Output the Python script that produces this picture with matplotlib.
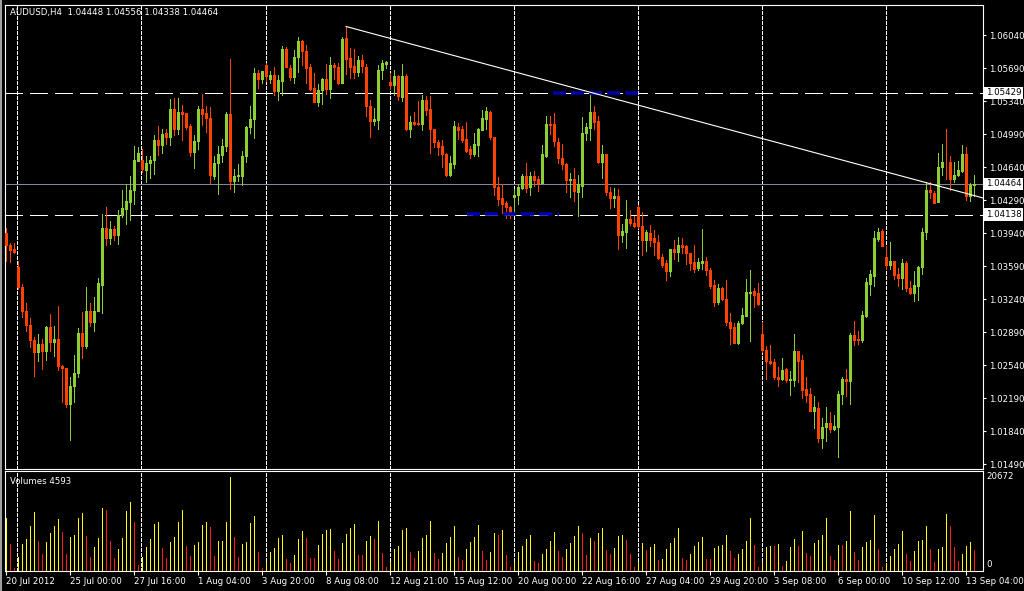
import matplotlib
matplotlib.use("Agg")
import matplotlib.pyplot as plt
from matplotlib.lines import Line2D
import numpy as np

# AUDUSD H4 bars, 20 Jul 2012 .. 13 Sep 2012
symbol = "AUDUSD,H4"

opens = [1.0394, 1.0382, 1.0377, 1.0358, 1.0337, 1.0311, 1.0297, 1.0281, 1.0268, 1.0277,
         1.0269, 1.0295, 1.0279, 1.0282, 1.0253, 1.0251, 1.0213, 1.0232, 1.0246, 1.0288,
         1.0274, 1.0312, 1.0300, 1.0312, 1.0339, 1.0400, 1.0389, 1.0398, 1.0392, 1.0413,
         1.0420, 1.0427, 1.0440, 1.0471, 1.0472, 1.0461, 1.0468, 1.0472, 1.0493, 1.0487,
         1.0500, 1.0496, 1.0526, 1.0505, 1.0522, 1.0521, 1.0508, 1.0480, 1.0492, 1.0526,
         1.0521, 1.0516, 1.0455, 1.0468, 1.0477, 1.0486, 1.0520, 1.0449, 1.0455, 1.0455,
         1.0476, 1.0507, 1.0515, 1.0564, 1.0558, 1.0572, 1.0557, 1.0562, 1.0545, 1.0555,
         1.0589, 1.0569, 1.0560, 1.0581, 1.0598, 1.0587, 1.0570, 1.0548, 1.0533, 1.0546,
         1.0558, 1.0547, 1.0572, 1.0570, 1.0553, 1.0601, 1.0580, 1.0571, 1.0565, 1.0578,
         1.0570, 1.0529, 1.0513, 1.0514, 1.0567, 1.0573, 1.0554, 1.0551, 1.0561, 1.0538,
         1.0561, 1.0505, 1.0512, 1.0511, 1.0510, 1.0535, 1.0526, 1.0505, 1.0491, 1.0486,
         1.0478, 1.0456, 1.0467, 1.0507, 1.0504, 1.0494, 1.0483, 1.0478, 1.0488, 1.0503,
         1.0515, 1.0523, 1.0496, 1.0443, 1.0431, 1.0426, 1.0422, 1.0432, 1.0434, 1.0442,
         1.0455, 1.0443, 1.0455, 1.0451, 1.0447, 1.0476, 1.0510, 1.0510, 1.0491, 1.0474,
         1.0467, 1.0450, 1.0452, 1.0438, 1.0444, 1.0500, 1.0506, 1.0522, 1.0513, 1.0470,
         1.0478, 1.0438, 1.0431, 1.0433, 1.0392, 1.0395, 1.0409, 1.0405, 1.0422, 1.0402,
         1.0387, 1.0394, 1.0389, 1.0385, 1.0369, 1.0362, 1.0354, 1.0377, 1.0374, 1.0382,
         1.0380, 1.0373, 1.0363, 1.0357, 1.0362, 1.0365, 1.0355, 1.0339, 1.0321, 1.0336,
         1.0324, 1.0300, 1.0295, 1.0278, 1.0299, 1.0306, 1.0331, 1.0333, 1.0331, 1.0287,
         1.0270, 1.0259, 1.0257, 1.0241, 1.0239, 1.0250, 1.0238, 1.0238, 1.0269, 1.0260,
         1.0229, 1.0223, 1.0206, 1.0209, 1.0177, 1.0188, 1.0193, 1.0186, 1.0188, 1.0223,
         1.0239, 1.0237, 1.0286, 1.0282, 1.0281, 1.0306, 1.0340, 1.0349, 1.0388, 1.0396,
         1.0369, 1.0360, 1.0365, 1.0351, 1.0346, 1.0362, 1.0336, 1.0331, 1.0338, 1.0358,
         1.0395, 1.0440, 1.0437, 1.0427, 1.0464, 1.0470, 1.0469, 1.0451, 1.0456, 1.0460,
         1.0478, 1.0433, 1.04448]

highs = [1.0399, 1.0384, 1.0384, 1.0365, 1.0340, 1.0320, 1.0304, 1.0284, 1.0287, 1.0282,
         1.0296, 1.0308, 1.0296, 1.0317, 1.0254, 1.0251, 1.0242, 1.0265, 1.0294, 1.0310,
         1.0337, 1.0320, 1.0326, 1.0346, 1.0414, 1.0422, 1.0407, 1.0402, 1.0419, 1.0440,
         1.0446, 1.0455, 1.0486, 1.0485, 1.0483, 1.0476, 1.0476, 1.0498, 1.0508, 1.0505,
         1.0505, 1.0536, 1.0537, 1.0537, 1.0530, 1.0521, 1.0510, 1.0498, 1.0529, 1.0542,
         1.0529, 1.0528, 1.0476, 1.0486, 1.0494, 1.0523, 1.0579, 1.0462, 1.0467, 1.0481,
         1.0508, 1.0529, 1.0569, 1.0567, 1.0566, 1.0575, 1.0566, 1.0570, 1.0562, 1.0593,
         1.0591, 1.0572, 1.0588, 1.0602, 1.0599, 1.0594, 1.0573, 1.0564, 1.0552, 1.0559,
         1.0573, 1.0581, 1.0575, 1.0575, 1.0602, 1.0613, 1.0590, 1.0589, 1.0582, 1.0583,
         1.0573, 1.0535, 1.0527, 1.0572, 1.0578, 1.0577, 1.0564, 1.0567, 1.0562, 1.0573,
         1.0563, 1.0518, 1.0523, 1.0534, 1.0541, 1.0539, 1.0539, 1.0505, 1.0493, 1.0493,
         1.0479, 1.0476, 1.0513, 1.0511, 1.0508, 1.0512, 1.0486, 1.0500, 1.0506, 1.0525,
         1.0528, 1.0524, 1.0496, 1.0454, 1.0446, 1.0428, 1.0423, 1.0441, 1.0446, 1.0457,
         1.0468, 1.0459, 1.0460, 1.0455, 1.0487, 1.0518, 1.0518, 1.0521, 1.0495, 1.0489,
         1.0468, 1.0458, 1.0463, 1.0456, 1.0517, 1.0511, 1.0541, 1.0529, 1.0518, 1.0488,
         1.0478, 1.0443, 1.0442, 1.0441, 1.0404, 1.0429, 1.0419, 1.0412, 1.0424, 1.0416,
         1.0397, 1.0403, 1.0397, 1.0392, 1.0372, 1.0366, 1.0377, 1.0387, 1.0390, 1.0389,
         1.0381, 1.0373, 1.0382, 1.0368, 1.0398, 1.0369, 1.0357, 1.0344, 1.0340, 1.0337,
         1.0344, 1.0309, 1.0299, 1.0301, 1.0315, 1.0345, 1.0355, 1.0336, 1.0341, 1.0300,
         1.0274, 1.0275, 1.0261, 1.0252, 1.0262, 1.0251, 1.0248, 1.0287, 1.0269, 1.0265,
         1.0242, 1.0230, 1.0221, 1.0215, 1.0198, 1.0210, 1.0204, 1.0201, 1.0227, 1.0241,
         1.0250, 1.0288, 1.0301, 1.0290, 1.0311, 1.0346, 1.0355, 1.0396, 1.0400, 1.0398,
         1.0380, 1.0385, 1.0365, 1.0357, 1.0367, 1.0364, 1.0343, 1.0354, 1.0359, 1.0399,
         1.0448, 1.0448, 1.0439, 1.0479, 1.0489, 1.0505, 1.0476, 1.0469, 1.0471, 1.0487,
         1.0485, 1.0447, 1.04556]

lows = [1.0364, 1.0363, 1.0373, 1.0335, 1.0305, 1.0290, 1.0273, 1.0243, 1.0258, 1.0250,
        1.0260, 1.0269, 1.0264, 1.0249, 1.0215, 1.0210, 1.0175, 1.0215, 1.0241, 1.0262,
        1.0272, 1.0296, 1.0290, 1.0312, 1.0309, 1.0382, 1.0383, 1.0387, 1.0383, 1.0411,
        1.0404, 1.0408, 1.0425, 1.0471, 1.0459, 1.0448, 1.0453, 1.0457, 1.0477, 1.0479,
        1.0489, 1.0487, 1.0498, 1.0499, 1.0493, 1.0504, 1.0476, 1.0463, 1.0483, 1.0509,
        1.0501, 1.0447, 1.0452, 1.0436, 1.0470, 1.0481, 1.0441, 1.0438, 1.0449, 1.0445,
        1.0469, 1.0500, 1.0495, 1.0548, 1.0553, 1.0555, 1.0553, 1.0541, 1.0535, 1.0541,
        1.0570, 1.0556, 1.0553, 1.0565, 1.0572, 1.0553, 1.0546, 1.0533, 1.0529, 1.0531,
        1.0542, 1.0537, 1.0558, 1.0552, 1.0553, 1.0563, 1.0559, 1.0559, 1.0561, 1.0565,
        1.0518, 1.0496, 1.0509, 1.0504, 1.0558, 1.0569, 1.0547, 1.0541, 1.0535, 1.0534,
        1.0503, 1.0496, 1.0509, 1.0509, 1.0503, 1.0519, 1.0479, 1.0485, 1.0477, 1.0464,
        1.0455, 1.0455, 1.0463, 1.0494, 1.0491, 1.0480, 1.0474, 1.0476, 1.0476, 1.0503,
        1.0504, 1.0494, 1.0434, 1.0424, 1.0415, 1.0410, 1.0410, 1.0413, 1.0425, 1.0441,
        1.0438, 1.0434, 1.0444, 1.0439, 1.0447, 1.0475, 1.0499, 1.0486, 1.0468, 1.0462,
        1.0438, 1.0432, 1.0428, 1.0412, 1.0432, 1.0493, 1.0493, 1.0504, 1.0468, 1.0453,
        1.0434, 1.0421, 1.0422, 1.0377, 1.0385, 1.0378, 1.0403, 1.0401, 1.0400, 1.0371,
        1.0375, 1.0380, 1.0371, 1.0367, 1.0358, 1.0344, 1.0349, 1.0367, 1.0364, 1.0373,
        1.0361, 1.0355, 1.0353, 1.0355, 1.0356, 1.0350, 1.0336, 1.0317, 1.0319, 1.0323,
        1.0297, 1.0276, 1.0278, 1.0277, 1.0298, 1.0306, 1.0280, 1.0316, 1.0318, 1.0268,
        1.0239, 1.0255, 1.0239, 1.0232, 1.0238, 1.0236, 1.0222, 1.0232, 1.0236, 1.0219,
        1.0215, 1.0205, 1.0187, 1.0173, 1.0166, 1.0174, 1.0183, 1.0185, 1.0157, 1.0213,
        1.0221, 1.0213, 1.0275, 1.0276, 1.0279, 1.0305, 1.0328, 1.0338, 1.0386, 1.0380,
        1.0356, 1.0356, 1.0345, 1.0338, 1.0335, 1.0333, 1.0330, 1.0322, 1.0323, 1.0351,
        1.0388, 1.0431, 1.0426, 1.0427, 1.0456, 1.0452, 1.0440, 1.0448, 1.0455, 1.0459,
        1.0429, 1.0428, 1.04338]

closes = [1.0382, 1.0376, 1.0374, 1.0337, 1.0311, 1.0297, 1.0281, 1.0268, 1.0277, 1.0269,
          1.0295, 1.0279, 1.0282, 1.0253, 1.0251, 1.0213, 1.0232, 1.0246, 1.0288, 1.0274,
          1.0312, 1.0300, 1.0312, 1.0341, 1.0400, 1.0389, 1.0398, 1.0392, 1.0413, 1.0421,
          1.0428, 1.0440, 1.0472, 1.0479, 1.0462, 1.0468, 1.0472, 1.0493, 1.0487, 1.0499,
          1.0496, 1.0526, 1.0505, 1.0522, 1.0520, 1.0507, 1.0480, 1.0492, 1.0526, 1.0520,
          1.0516, 1.0456, 1.0468, 1.0478, 1.0486, 1.0520, 1.0449, 1.0455, 1.0456, 1.0476,
          1.0507, 1.0515, 1.0564, 1.0558, 1.0566, 1.0561, 1.0562, 1.0545, 1.0556, 1.0589,
          1.0570, 1.0560, 1.0581, 1.0598, 1.0587, 1.0569, 1.0547, 1.0533, 1.0546, 1.0558,
          1.0547, 1.0572, 1.0570, 1.0553, 1.0600, 1.0579, 1.0570, 1.0565, 1.0578, 1.0571,
          1.0529, 1.0513, 1.0515, 1.0567, 1.0575, 1.0576, 1.0551, 1.0561, 1.0539, 1.0561,
          1.0505, 1.0512, 1.0510, 1.0510, 1.0535, 1.0525, 1.0504, 1.0491, 1.0485, 1.0478,
          1.0456, 1.0468, 1.0508, 1.0503, 1.0493, 1.0481, 1.0478, 1.0489, 1.0504, 1.0516,
          1.0524, 1.0496, 1.0443, 1.0430, 1.0425, 1.0422, 1.0414, 1.0435, 1.0443, 1.0455,
          1.0442, 1.0455, 1.0450, 1.0447, 1.0478, 1.0510, 1.0509, 1.0492, 1.0474, 1.0467,
          1.0450, 1.0452, 1.0439, 1.0446, 1.0500, 1.0507, 1.0522, 1.0512, 1.0469, 1.0478,
          1.0438, 1.0431, 1.0433, 1.0392, 1.0396, 1.0409, 1.0405, 1.0402, 1.0402, 1.0387,
          1.0395, 1.0387, 1.0385, 1.0368, 1.0360, 1.0354, 1.0377, 1.0374, 1.0381, 1.0379,
          1.0373, 1.0362, 1.0356, 1.0363, 1.0365, 1.0355, 1.0338, 1.0321, 1.0336, 1.0324,
          1.0300, 1.0294, 1.0278, 1.0299, 1.0307, 1.0332, 1.0332, 1.0329, 1.0319, 1.0270,
          1.0259, 1.0256, 1.0241, 1.0239, 1.0249, 1.0238, 1.0239, 1.0269, 1.0259, 1.0228,
          1.0222, 1.0206, 1.0210, 1.0177, 1.0189, 1.0193, 1.0186, 1.0190, 1.0223, 1.0239,
          1.0237, 1.0286, 1.0281, 1.0281, 1.0307, 1.0342, 1.0351, 1.0389, 1.0395, 1.0380,
          1.0360, 1.0365, 1.0350, 1.0347, 1.0362, 1.0336, 1.0331, 1.0339, 1.0358, 1.0395,
          1.0440, 1.0438, 1.0426, 1.0464, 1.0470, 1.0469, 1.0451, 1.0456, 1.0461, 1.0478,
          1.0433, 1.0445, 1.04464]

volumes = [11730, 5940, 590, 3150, 5940, 7040, 9900, 12900, 6600, 3740,
           6380, 8360, 9900, 11440, 8580, 3740, 7480, 7920, 11730, 12750,
           7700, 3080, 5280, 7260, 13930, 13410, 6600, 2860, 4840, 7260,
           13190, 15170, 10780, 1320, 3080, 5280, 7040, 10340, 10780, 5060,
           2860, 6380, 7480, 10780, 13410, 5500, 3300, 5720, 6380, 10120,
           10780, 9680, 3300, 6600, 6600, 10780, 20672, 7480, 3080, 5940,
           6380, 10560, 12100, 4180, 660, 1980, 4180, 5060, 7260, 7920,
           2640, 1760, 3520, 7040, 8800, 7260, 2860, 2800, 5720, 8140,
           9020, 9240, 4400, 2640, 6160, 8140, 9460, 10340, 3520, 3450,
           6600, 7700, 7040, 11000, 3960, 880, 1980, 4840, 5500, 9020,
           9460, 4180, 2860, 4400, 7260, 7920, 11000, 3960, 2640, 3960,
           6160, 7480, 9900, 3080, 2420, 4840, 6380, 7480, 10120, 4400,
           2420, 4180, 8360, 7920, 9020, 3520, 880, 1980, 4180, 5500,
           7040, 7920, 2200, 1760, 3740, 4840, 6600, 8580, 4400, 3080,
           4840, 6160, 7700, 9900, 8360, 3520, 7260, 6600, 8360, 9460,
           4620, 3740, 5060, 7700, 7920, 6820, 3740, 880, 1980, 6160,
           4620, 5280, 5940, 2420, 2640, 4840, 6160, 7260, 9460, 2860,
           2420, 3740, 5500, 6380, 7480, 2640, 2600, 5060, 5500, 5720,
           7920, 4400, 2860, 3740, 4840, 6600, 11660, 5720, 880, 1980,
           5280, 5500, 5450, 5940, 1100, 2200, 5280, 7040, 5500, 8800,
           3960, 3300, 6160, 6820, 7920, 11660, 3300, 2420, 5720, 5650,
           6600, 13190, 4180, 2420, 5280, 6380, 6820, 12310, 4840, 880,
           1760, 3300, 4840, 5940, 8800, 3740, 2200, 4400, 6600, 6820,
           9900, 4840, 1980, 4840, 5280, 12530, 9900, 5280, 2200, 3740,
           5500, 6380, 4593]

price_ticks = [1.06040, 1.05690, 1.05340, 1.04990, 1.04640, 1.04290, 1.03940,
               1.03590, 1.03240, 1.02890, 1.02540, 1.02190, 1.01840, 1.01490]
vol_max_label = 20672

date_labels = ["20 Jul 2012", "25 Jul 00:00", "27 Jul 16:00", "1 Aug 04:00",
               "3 Aug 20:00", "8 Aug 08:00", "12 Aug 21:00", "15 Aug 12:00",
               "20 Aug 00:00", "22 Aug 16:00", "27 Aug 04:00", "29 Aug 20:00",
               "3 Sep 08:00", "6 Sep 00:00", "10 Sep 12:00", "13 Sep 04:00"]
label_step = 16          # one date label every 16 bars
week_bars = 31           # period separators

# objects drawn on the chart
hline_levels = [1.05429, 1.04138]         # white dashed horizontal lines
bid_level = 1.04464                        # grey bid line
blue_levels = [1.05429, 1.04138]
blue_spans = [(136.8, 159.3), (115.3, 138.3)]
trend_start = (85, 1.06132)
trend_end = (240, 1.04362)

# ---------------------------------------------------------------
W, H = 1024, 591
BULL = "#8ccf34"
BEAR = "#ff4200"
FS = 6.2
PX = 0.72   # one pixel in points

def px_rect(x0, y0, x1, y1):
    return [x0 / W, 1 - y1 / H, (x1 - x0) / W, (y1 - y0) / H]

fig = plt.figure(figsize=(W / 100, H / 100), dpi=100, facecolor="black")
ax = fig.add_axes(px_rect(4.5, 4.5, 982.5, 468.5))
axv = fig.add_axes(px_rect(4.5, 470.5, 982.5, 571))

o = np.array(opens)
h = np.array(highs)
l = np.array(lows)
c = np.array(closes)
v = np.array(volumes)
n = len(o)
x = np.arange(n)
xlim = (-0.34, 244.1)

for a in (ax, axv):
    a.set_facecolor("black")
    a.set_xlim(*xlim)
    for s in a.spines.values():
        s.set_color("white")
        s.set_linewidth(0.8)
    for g in np.arange(2.9, n, week_bars):
        a.axvline(g, color="white", lw=PX, ls=(0, (3, 2)), zorder=1, antialiased=False)

# candles: 1px wick, 3px body
up = c >= o
cols = np.where(up, BULL, BEAR)
ax.vlines(x, l, h, colors=cols, lw=PX, zorder=3, antialiased=False)
lo = np.minimum(o, c)
hi = np.maximum(np.maximum(o, c), lo + 0.0001)
ax.vlines(x, lo, hi, colors=cols, lw=3 * PX, zorder=4, antialiased=False,
          capstyle="butt")

ax.set_ylim(1.01445, 1.06365)
ax.set_xticks([])
ax.yaxis.tick_right()
ax.set_yticks(price_ticks)
ax.set_yticklabels([f"{p:.5f}" for p in price_ticks])
ax.tick_params(axis="y", colors="white", length=2.5, width=0.8, labelsize=FS, pad=2)

# horizontal objects
for lv in hline_levels:
    ax.axhline(lv, color="white", lw=PX, ls=(0, (17, 7)), zorder=2, antialiased=False)
ax.axhline(bid_level, color="#7b8a9c", lw=PX, zorder=2, antialiased=False)
for lv, (b0, b1) in zip(blue_levels, blue_spans):
    ax.hlines(lv + 0.00002, b0, b1, color="#0000a8", lw=2.6,
              linestyles=[(0, (3.6, 1.4))], zorder=5)

# trend line extended to the right edge
slope = (trend_end[1] - trend_start[1]) / (trend_end[0] - trend_start[0])
ax.plot([trend_start[0], xlim[1]],
        [trend_start[1], trend_start[1] + slope * (xlim[1] - trend_start[0])],
        color="white", lw=0.8, zorder=6)

for lv in [hline_levels[0], bid_level, hline_levels[1]]:
    ax.annotate(f"{lv:.5f}", xy=(1, lv), xycoords=("axes fraction", "data"),
                xytext=(2.3, 0), textcoords="offset points", ha="left", va="center",
                fontsize=FS, color="black", annotation_clip=False,
                bbox=dict(boxstyle="square,pad=0.18", fc="white", ec="none"))

# volumes
vcols = ["#ffff00"] + ["#ffff00" if v[i] >= v[i - 1] else "#ff1a1a" for i in range(1, n)]
axv.vlines(x, 0, v, colors=vcols, lw=PX, zorder=3, antialiased=False)
axv.set_ylim(0, 22100)
axv.set_yticks([])
axv.set_xticks(x[::label_step][:len(date_labels)])
axv.set_xticklabels(date_labels)
axv.tick_params(axis="x", colors="white", length=3, width=0.8, labelsize=FS, pad=1.5)
for t in axv.get_xticklabels():
    t.set_ha("left")

axv.annotate(str(vol_max_label), xy=(1, vol_max_label), xycoords=("axes fraction", "data"),
             xytext=(3, 0), textcoords="offset points", ha="left", va="center",
             fontsize=FS, color="white", annotation_clip=False)
axv.annotate("0", xy=(1, 0), xycoords=("axes fraction", "data"),
             xytext=(3, 5), textcoords="offset points", ha="left", va="center",
             fontsize=FS, color="white", annotation_clip=False)

title = f"{symbol}  {o[-1]:.5f} {h[-1]:.5f} {l[-1]:.5f} {c[-1]:.5f}"
fig.text(10 / W, 1 - 13 / H, title, color="white", fontsize=FS, va="center", ha="left")
fig.text(10 / W, 1 - 481 / H, f"Volumes {v[-1]}", color="white", fontsize=FS, va="center", ha="left")

fig.add_artist(Line2D([1.2 / W, 1.2 / W], [0, 1], color="#a0a0a0", lw=1.5))

fig.savefig("out.png", dpi=100, facecolor="black")
